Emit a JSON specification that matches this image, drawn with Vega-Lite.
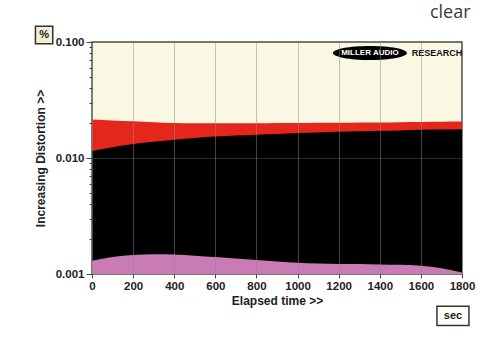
{
  "$schema": "https://vega.github.io/schema/vega-lite/v6.json",
  "width": 370,
  "height": 232,
  "autosize": "none",
  "padding": {"left": 92, "top": 42, "right": 22, "bottom": 64},
  "background": "white",
  "config": {
    "font": "Liberation Sans",
    "view": {"fill": "#faf8e2", "stroke": "#4a4a4a", "strokeWidth": 1.5},
    "axis": {
      "domain": false,
      "labelFont": "Liberation Sans",
      "labelFontWeight": "bold",
      "labelFontSize": 11.5,
      "labelColor": "#222",
      "titleFont": "Liberation Sans",
      "titleFontWeight": "bold",
      "titleFontSize": 12,
      "titleColor": "#222",
      "tickColor": "#444",
      "gridColor": "#8a8a8a",
      "gridOpacity": 0.5
    }
  },
  "datasets": {
    "curves": [
      {"t": 0, "red": 0.0215, "black": 0.0115, "pink": 0.00130},
      {"t": 100, "red": 0.0211, "black": 0.0124, "pink": 0.00140},
      {"t": 200, "red": 0.0207, "black": 0.0132, "pink": 0.00146},
      {"t": 300, "red": 0.0203, "black": 0.0138, "pink": 0.00148},
      {"t": 400, "red": 0.0200, "black": 0.0144, "pink": 0.00147},
      {"t": 500, "red": 0.0199, "black": 0.0149, "pink": 0.00144},
      {"t": 600, "red": 0.0199, "black": 0.0153, "pink": 0.00140},
      {"t": 700, "red": 0.0199, "black": 0.0156, "pink": 0.00136},
      {"t": 800, "red": 0.0199, "black": 0.0159, "pink": 0.00132},
      {"t": 900, "red": 0.0200, "black": 0.0161, "pink": 0.00128},
      {"t": 1000, "red": 0.0200, "black": 0.0164, "pink": 0.00125},
      {"t": 1100, "red": 0.0201, "black": 0.0166, "pink": 0.00123},
      {"t": 1200, "red": 0.0201, "black": 0.0168, "pink": 0.00122},
      {"t": 1300, "red": 0.0202, "black": 0.0170, "pink": 0.00122},
      {"t": 1400, "red": 0.0202, "black": 0.0172, "pink": 0.00121},
      {"t": 1500, "red": 0.0203, "black": 0.0173, "pink": 0.00120},
      {"t": 1600, "red": 0.0204, "black": 0.0175, "pink": 0.00118},
      {"t": 1700, "red": 0.0205, "black": 0.0176, "pink": 0.00112},
      {"t": 1800, "red": 0.0206, "black": 0.0177, "pink": 0.00103}
    ],
    "boxes": [
      {"t": -233, "v": 0.1149, "label": "%", "kind": "sq"},
      {"t": 1756, "v": 0.000435, "label": "sec", "kind": "rect"}
    ],
    "logo": [
      {"t": 1352, "v": 0.0804, "label": "MILLER AUDIO"}
    ],
    "logo2": [
      {"t": 1678, "v": 0.0804, "label": "RESEARCH"}
    ],
    "page": [
      {"t": 1644, "v": 0.16, "label": "clear"}
    ]
  },
  "encoding": {
    "x": {
      "field": "t",
      "type": "quantitative",
      "scale": {"domain": [0, 1800], "nice": false, "zero": false},
      "axis": {
        "title": "Elapsed time >>",
        "values": [0, 200, 400, 600, 800, 1000, 1200, 1400, 1600, 1800],
        "format": "d",
        "tickSize": 4,
        "labelPadding": 2,
        "titlePadding": 4,
        "zindex": 1,
        "labelFlush": false
      }
    }
  },
  "layer": [
    {
      "data": {"name": "curves"},
      "mark": {"type": "area", "color": "#e5261b", "interpolate": "monotone"},
      "encoding": {
        "y": {
          "field": "red",
          "type": "quantitative",
          "title": "Increasing Distortion >>",
          "scale": {"type": "log", "domain": [0.001, 0.1], "nice": false},
          "axis": {
            "title": "Increasing Distortion >>",
            "values": [0.001, 0.002, 0.003, 0.004, 0.005, 0.006, 0.007, 0.008, 0.009, 0.01, 0.02, 0.03, 0.04, 0.05, 0.06, 0.07, 0.08, 0.09, 0.1],
            "labelExpr": "(datum.value == 0.001 || datum.value == 0.01 || datum.value == 0.1) ? format(datum.value, '.3f') : ''",
            "labelOverlap": false,
            "labelPadding": 2,
            "titlePadding": 8,
            "zindex": 1,
            "tickSize": {"condition": {"test": "datum.value == 0.001 || datum.value == 0.01 || datum.value == 0.1", "value": 6}, "value": 3},
            "gridOpacity": {"condition": {"test": "datum.value == 0.01", "value": 0.6}, "value": 0}
          }
        },
        "y2": {"datum": 0.001}
      }
    },
    {
      "data": {"name": "curves"},
      "mark": {"type": "area", "color": "#000000", "interpolate": "monotone"},
      "encoding": {
        "y": {"field": "black", "type": "quantitative", "title": "Increasing Distortion >>"},
        "y2": {"datum": 0.001}
      }
    },
    {
      "data": {"name": "curves"},
      "mark": {"type": "area", "color": "#c97bb6", "interpolate": "monotone"},
      "encoding": {
        "y": {"field": "pink", "type": "quantitative", "title": "Increasing Distortion >>"},
        "y2": {"datum": 0.001}
      }
    },
    {
      "data": {"name": "boxes"},
      "transform": [{"filter": "datum.kind == 'sq'"}],
      "mark": {"type": "point", "shape": "square", "size": 300, "filled": true, "fill": "#f2efd2", "stroke": "#333", "strokeWidth": 1.5, "opacity": 1},
      "encoding": {
        "y": {"field": "v", "type": "quantitative", "title": "Increasing Distortion >>"}
      }
    },
    {
      "data": {"name": "boxes"},
      "transform": [{"filter": "datum.kind == 'rect'"}],
      "mark": {"type": "point", "shape": "M-1,-0.6H1V0.6H-1Z", "size": 1024, "filled": true, "fill": "#fdfdf5", "stroke": "#333", "strokeWidth": 1.5, "opacity": 1},
      "encoding": {
        "y": {"field": "v", "type": "quantitative", "title": "Increasing Distortion >>"}
      }
    },
    {
      "data": {"name": "boxes"},
      "mark": {"type": "text", "font": "Liberation Sans", "fontWeight": "bold", "fontSize": 11, "color": "#222", "align": "center", "baseline": "middle"},
      "encoding": {
        "y": {"field": "v", "type": "quantitative", "title": "Increasing Distortion >>"},
        "text": {"field": "label"}
      }
    },
    {
      "data": {"name": "logo"},
      "mark": {"type": "point", "shape": "M-1,0A1,0.19,0,1,0,1,0A1,0.19,0,1,0,-1,0Z", "size": 5476, "filled": true, "color": "#000", "opacity": 1},
      "encoding": {
        "y": {"field": "v", "type": "quantitative", "title": "Increasing Distortion >>"}
      }
    },
    {
      "data": {"name": "logo"},
      "mark": {"type": "text", "font": "Liberation Sans", "fontWeight": "bold", "fontSize": 8, "color": "#ffffff", "align": "center", "baseline": "middle"},
      "encoding": {
        "y": {"field": "v", "type": "quantitative", "title": "Increasing Distortion >>"},
        "text": {"field": "label"}
      }
    },
    {
      "data": {"name": "logo2"},
      "mark": {"type": "text", "font": "Liberation Sans", "fontWeight": "bold", "fontSize": 9, "color": "#111", "align": "center", "baseline": "middle"},
      "encoding": {
        "y": {"field": "v", "type": "quantitative", "title": "Increasing Distortion >>"},
        "text": {"field": "label"}
      }
    },
    {
      "data": {"name": "page"},
      "mark": {"type": "text", "font": "Open Sans", "fontSize": 18, "color": "#3a3a3a", "align": "left", "baseline": "alphabetic"},
      "encoding": {
        "y": {"field": "v", "type": "quantitative", "title": "Increasing Distortion >>"},
        "text": {"field": "label"}
      }
    }
  ]
}
